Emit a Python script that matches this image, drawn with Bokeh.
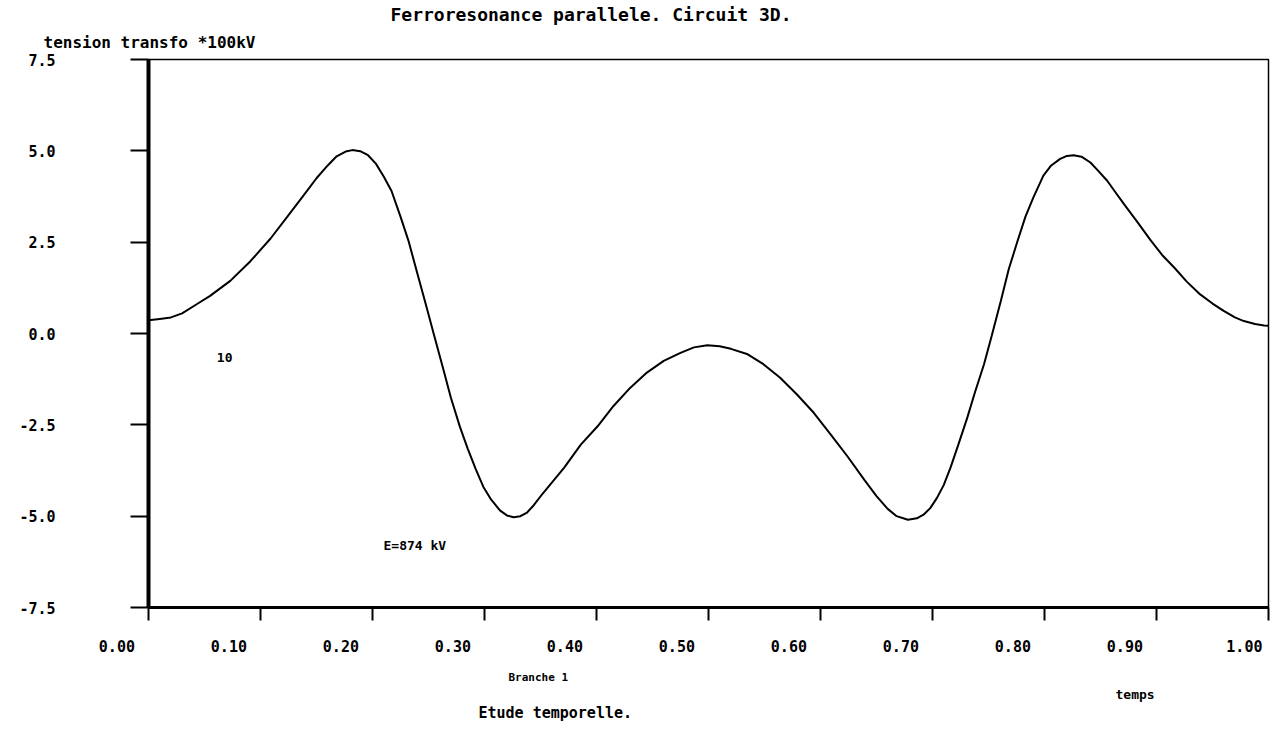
from bokeh.plotting import figure
from bokeh.models import Label, FixedTicker, Range1d, Title
from bokeh.embed import file_html
from bokeh.resources import INLINE

# ---- data ----
time = [0.000, 0.010, 0.020, 0.030, 0.043, 0.055, 0.073, 0.091, 0.109, 0.124,
        0.139, 0.150, 0.160, 0.168, 0.176, 0.182, 0.189, 0.196, 0.203, 0.210,
        0.217, 0.225, 0.232, 0.240, 0.248, 0.255, 0.263, 0.270, 0.278, 0.285,
        0.292, 0.299, 0.306, 0.314, 0.320, 0.326, 0.332, 0.338, 0.344, 0.352,
        0.359, 0.371, 0.386, 0.401, 0.415, 0.430, 0.445, 0.460, 0.475, 0.487,
        0.499, 0.510, 0.520, 0.535, 0.549, 0.564, 0.579, 0.594, 0.609, 0.624,
        0.639, 0.650, 0.660, 0.668, 0.678, 0.686, 0.692, 0.698, 0.704, 0.710,
        0.716, 0.723, 0.731, 0.738, 0.746, 0.753, 0.761, 0.768, 0.776, 0.783,
        0.790, 0.799, 0.806, 0.814, 0.820, 0.826, 0.833, 0.841, 0.848, 0.856,
        0.863, 0.871, 0.883, 0.895, 0.905, 0.916, 0.927, 0.939, 0.950, 0.960,
        0.970, 0.978, 0.988, 0.996, 1.000]
tension = [0.36, 0.40, 0.44, 0.55, 0.80, 1.03, 1.44, 1.98, 2.60, 3.20,
           3.80, 4.25, 4.60, 4.85, 4.98, 5.02, 4.99, 4.88, 4.65, 4.30,
           3.90, 3.20, 2.55, 1.65, 0.75, -0.05, -0.95, -1.76, -2.55, -3.15,
           -3.70, -4.20, -4.55, -4.85, -4.98, -5.03, -5.00, -4.90, -4.70, -4.38,
           -4.12, -3.68, -3.04, -2.54, -1.99, -1.49, -1.07, -0.75, -0.53, -0.38,
           -0.32, -0.35, -0.42, -0.57, -0.84, -1.21, -1.67, -2.17, -2.76, -3.36,
           -4.00, -4.45, -4.80, -5.00, -5.10, -5.06, -4.96, -4.78, -4.50, -4.15,
           -3.68, -3.05, -2.31, -1.60, -0.84, -0.05, 0.89, 1.75, 2.54, 3.20,
           3.72, 4.32, 4.60, 4.78, 4.86, 4.88, 4.84, 4.68, 4.45, 4.18,
           3.88, 3.54, 3.05, 2.54, 2.15, 1.80, 1.42, 1.07, 0.82, 0.62,
           0.44, 0.34, 0.26, 0.22, 0.21]

x_ticks = [0.0, 0.1, 0.2, 0.3, 0.4, 0.5, 0.6, 0.7, 0.8, 0.9, 1.0]
x_tick_labels = ["0.00", "0.10", "0.20", "0.30", "0.40", "0.50", "0.60",
                 "0.70", "0.80", "0.90", "1.00"]
y_ticks = [-7.5, -5.0, -2.5, 0.0, 2.5, 5.0, 7.5]
y_tick_labels = ["-7.5", "-5.0", "-2.5", "0.0", "2.5", "5.0", "7.5"]

title_text = "Ferroresonance parallele. Circuit 3D."
y_title = "tension transfo *100kV"
x_title = "temps"
sub_title = "Etude temporelle."
branch_text = "Branche 1"
curve_tag = "10"
e_text = "E=874 kV"

FONT = "DejaVu Sans Mono"
NBSP = "\u00a0"

p = figure(width=1271, height=729, output_backend="svg", toolbar_location=None,
           x_range=Range1d(0, 1), y_range=Range1d(-7.5, 7.5),
           min_border_left=148, min_border_right=3,
           min_border_top=59, min_border_bottom=122)
p.title.text = ""
p.background_fill_color = "white"
p.border_fill_color = "white"
p.outline_line_color = "black"
p.outline_line_width = 1.5
p.grid.visible = False

p.line(time, tension, line_color="black", line_width=2)


def style_axis(ax, ticks, labels, tick_out, line_w, standoff):
    ax.ticker = FixedTicker(ticks=ticks, minor_ticks=[])
    ax.major_label_overrides = {t: l for t, l in zip(ticks, labels)}
    ax.major_tick_out = tick_out
    ax.major_tick_in = 0
    ax.minor_tick_out = 0
    ax.minor_tick_in = 0
    ax.major_tick_line_width = 2
    ax.major_tick_line_color = "black"
    ax.axis_line_width = line_w
    ax.axis_line_color = "black"
    ax.major_label_standoff = standoff
    ax.major_label_text_font = FONT
    ax.major_label_text_font_style = "bold"
    ax.major_label_text_font_size = "15px"
    ax.major_label_text_color = "black"


# the printed x tick labels sit left of their tick marks: pad them on the right
pads = [7] * (len(x_tick_labels) - 1) + [1]
style_axis(p.xaxis[0], x_ticks,
           [l + NBSP * n for l, n in zip(x_tick_labels, pads)], 13, 3, 17)
style_axis(p.yaxis[0], y_ticks, y_tick_labels, 18, 4, 75)


def add_title(place, text, size, offset, standoff, valign="bottom"):
    p.add_layout(Title(text=text, align="left", offset=offset, standoff=standoff,
                       vertical_align=valign,
                       text_font=FONT, text_font_style="bold",
                       text_font_size=size, text_color="black"), place)


add_title("above", y_title, "16px", -105, 12, "top")
add_title("above", title_text, "18px", 242, 3)
add_title("below", branch_text, "11px", 360, 20)
add_title("below", x_title, "13px", 967, -17)
add_title("below", sub_title, "15px", 330, 16)


def add_text(x, y, text, size):
    p.add_layout(Label(x=x, y=y, text=text, text_font=FONT,
                       text_font_style="bold", text_font_size=size,
                       text_align="left", text_baseline="middle",
                       text_color="black"))


add_text(0.061, -0.67, curve_tag, "13px")
add_text(0.2098, -5.80, e_text, "13px")

open("out.html", "w").write(file_html(p, INLINE))
